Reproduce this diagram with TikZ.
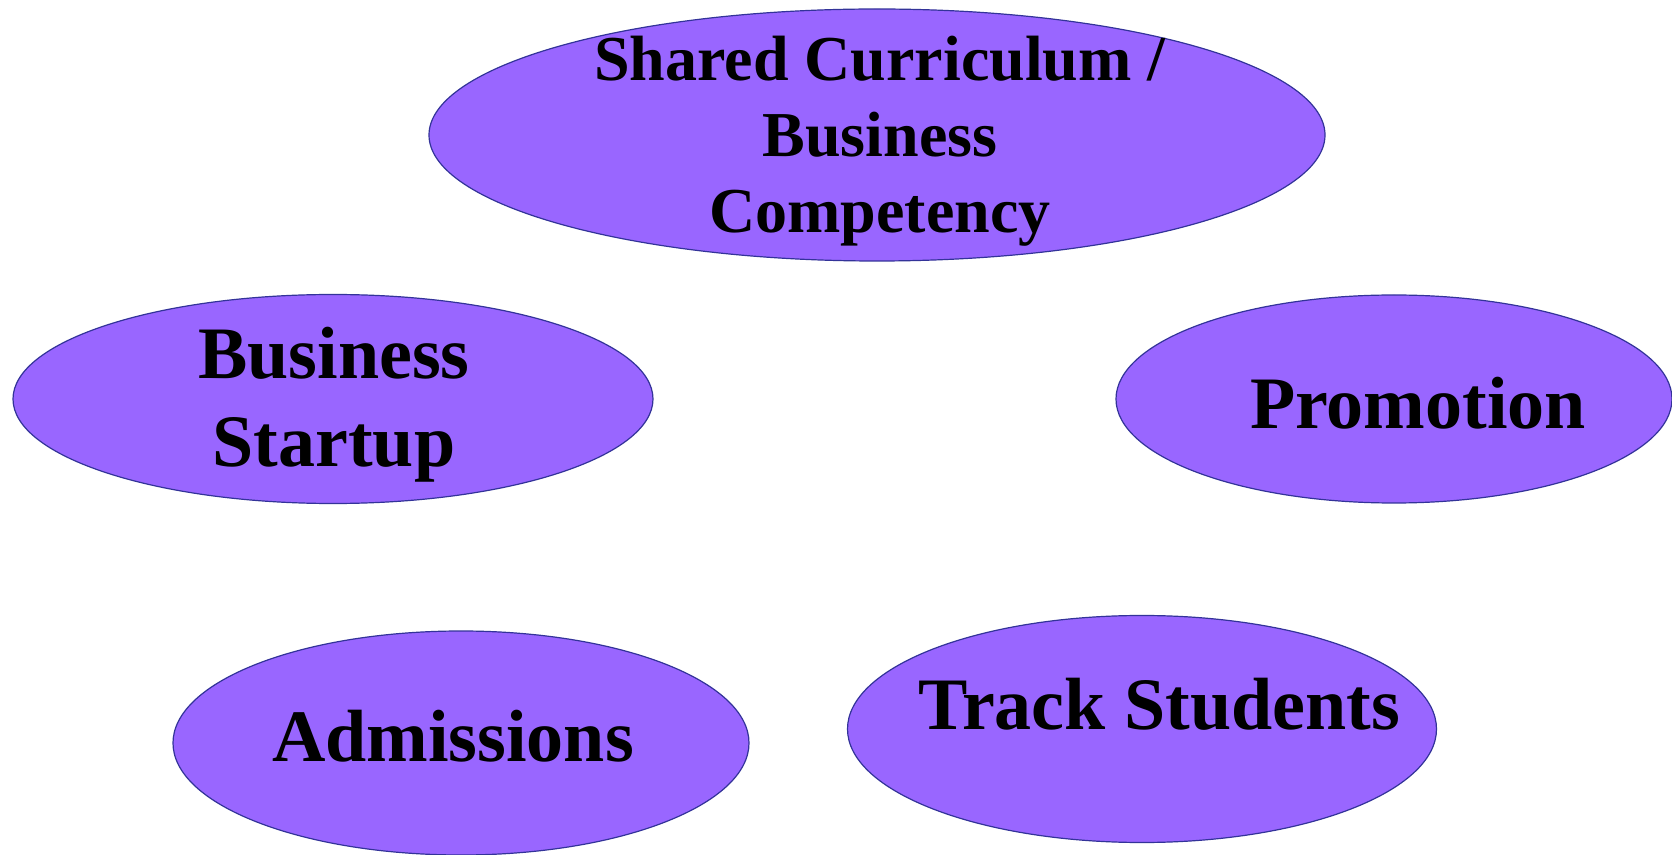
\documentclass[tikz,border=0pt]{standalone}
\usepackage{fontspec}
\setmainfont{Liberation Serif}
\usetikzlibrary{shapes.geometric,positioning}

\definecolor{ovalfill}{HTML}{9966FF}
\definecolor{ovaldraw}{HTML}{333399}

\begin{document}
\begin{tikzpicture}[x=0.5pt,y=-0.5pt]

\tikzstyle{oval} = [ellipse,draw=ovaldraw,fill=ovalfill,line width=0.6pt,inner sep=0]%
\tikzstyle{ovaltext} = [align=center,inner sep=0,font=\fontsize{37}{44}\selectfont\bfseries,text=black]%
\tikzstyle{ovalsmall} = [ovaltext,font=\fontsize{32}{38}\selectfont\bfseries]%

\useasboundingbox (0,0) rectangle (1672,855);

\node[oval,minimum width=448pt,minimum height=126pt] (shared) at (877,135) {};
\node[oval,minimum width=320pt,minimum height=104.5pt] (startup) at (333,399) {};
\node[oval,minimum width=278pt,minimum height=104pt] (promo) at (1394,399) {};
\node[oval,minimum width=288pt,minimum height=112pt] (admit) at (461,743) {};
\node[oval,minimum width=294.5pt,minimum height=113.5pt] (track) at (1142,729) {};

\node[ovalsmall] (sharedtxt) at (880,141) {Shared Curriculum /\\Business\\Competency};
\node[ovaltext] (startuptxt) at (334,405) {Business\\Startup};
\node[ovaltext] (promotxt) at (1418,403) {Promotion};
\node[ovaltext] (admittxt) at (453,736) {Admissions};
\node[ovaltext] (tracktxt) at (1159,704) {Track Students};

\end{tikzpicture}
\end{document}
